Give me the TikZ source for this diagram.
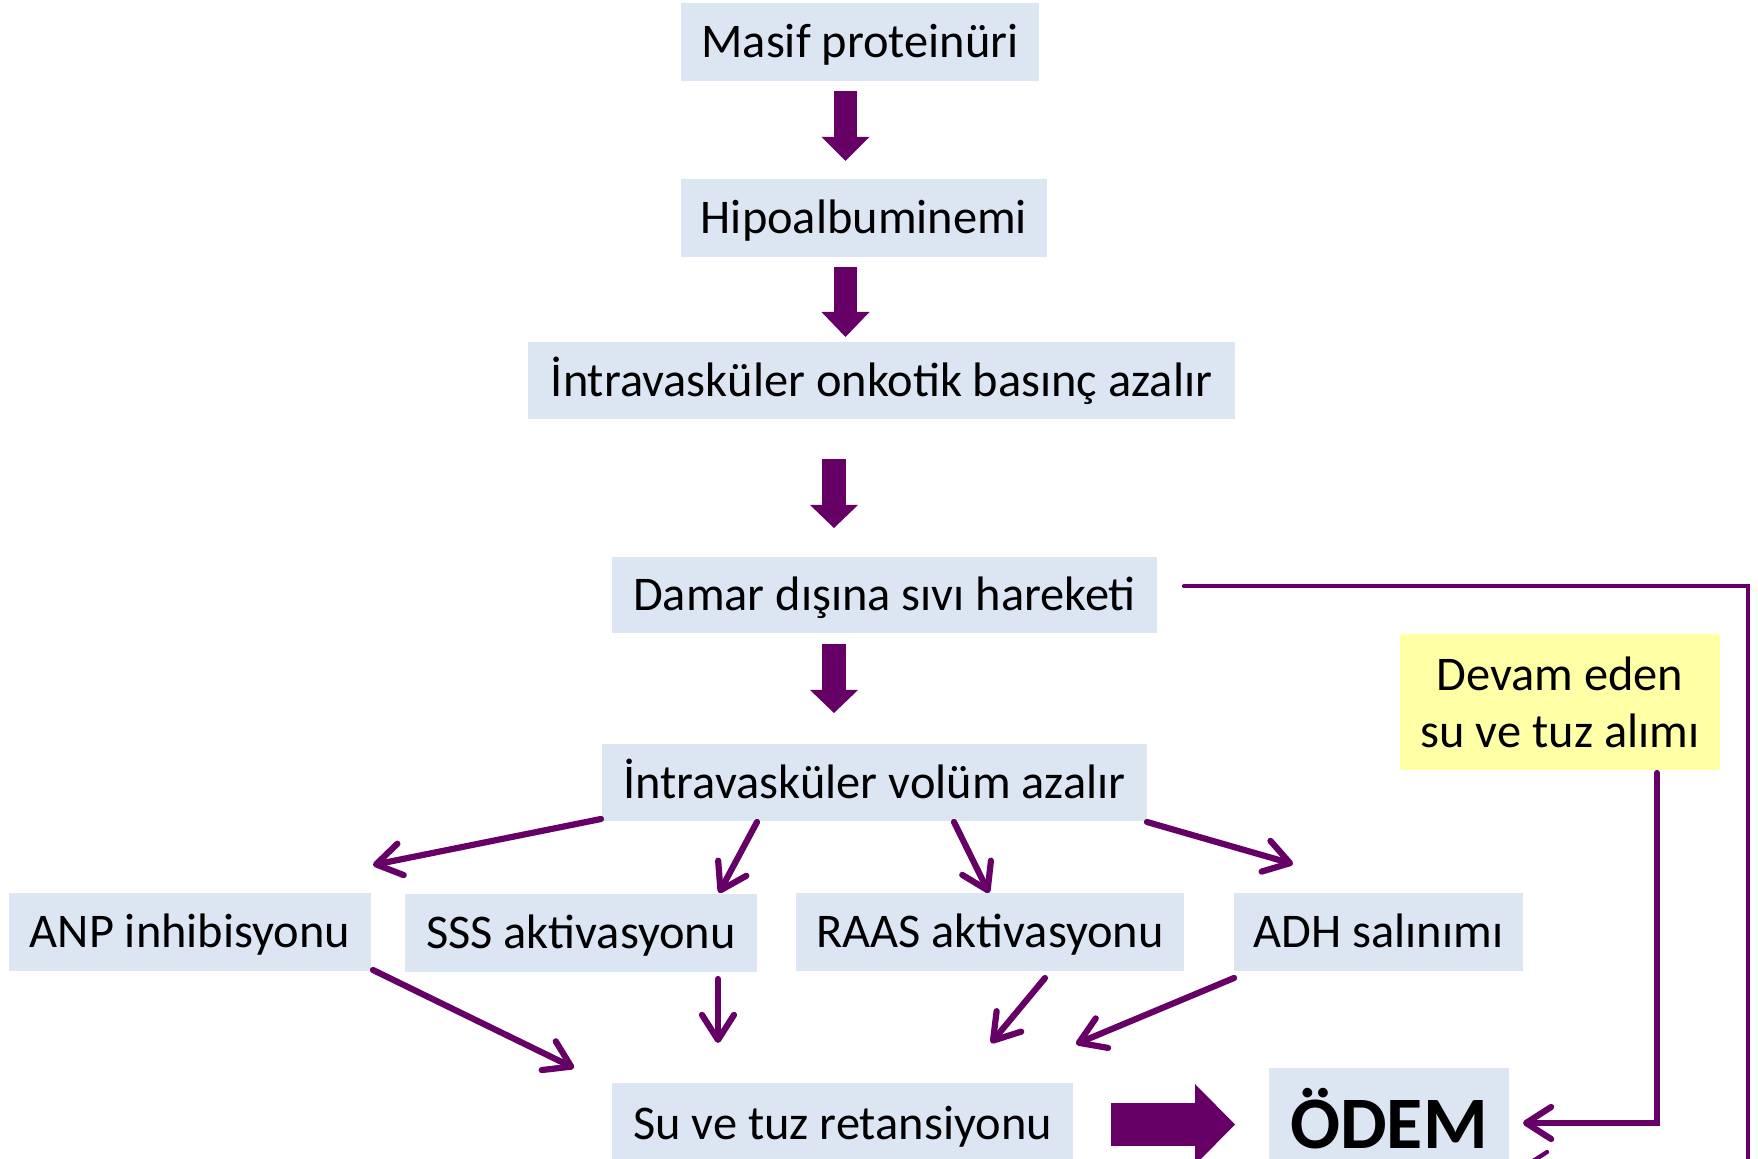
\documentclass[tikz,border=0pt]{standalone}
\usepackage{fontspec}
\setmainfont{Carlito}
\usetikzlibrary{arrows.meta}
\definecolor{boxblue}{HTML}{DCE6F2}
\definecolor{purp}{HTML}{660066}
\definecolor{ylw}{HTML}{FFFFA6}
\begin{document}
\begin{tikzpicture}[x=0.5pt,y=-0.5pt,
  base/.style={inner sep=0pt, font=\fontsize{24.2}{28.5}\selectfont},
  box/.style={base, fill=boxblue, text height=20.8pt, text depth=4.8pt},
  conn/.style={draw=purp, line width=3.1pt, line cap=round,
    -{Straight Barb[length=12.5pt,width=16pt,line cap=round,line join=round]}},
  blk/.style={draw=purp, line width=#1, line cap=butt}
]
\useasboundingbox (0,0) rectangle (1758,1159);
\clip (0,0) rectangle (1758,1159);

% boxes
\node[box, minimum width=179pt, minimum height=39pt] (m) at (860,42) {Masif proteinüri};
\node[box, minimum width=183pt, minimum height=39pt] (h) at (864,218) {Hipoalbuminemi};
\node[box, minimum width=353.5pt, minimum height=38.5pt] (onk) at (881.5,380.5) {İntravasküler onkotik basınç azalır};
\node[box, minimum width=272.5pt, minimum height=38pt] (dam) at (884.5,595) {Damar dışına sıvı hareketi};
\node[box, minimum width=272.5pt, minimum height=38.5pt] (vol) at (874.5,782.5) {İntravasküler volüm azalır};
\node[box, minimum width=181pt, minimum height=39pt] (anp) at (190,932) {ANP inhibisyonu};
\node[box, minimum width=176pt, minimum height=39pt] (sss) at (581,933) {SSS aktivasyonu};
\node[box, minimum width=194pt, minimum height=39pt] (raas) at (990,932) {RAAS aktivasyonu};
\node[box, minimum width=144.5pt, minimum height=39pt] (adh) at (1378.5,932) {ADH salınımı};
\node[box, minimum width=230.5pt, minimum height=40pt] (su) at (842.5,1123) {Su ve tuz retansiyonu};
\node[box, minimum width=120pt, minimum height=56.5pt, font=\fontsize{37}{40}\selectfont\bfseries,
      text height=31.8pt, text depth=7.4pt] (odem) at (1389,1124.5) {ÖDEM};
\node[base, fill=ylw, align=center, minimum width=160pt, minimum height=68pt] (devam) at (1560,702) {Devam eden\\su ve tuz alımı};

% block arrow end points
\coordinate (b1s) at (845.5,91);  \coordinate (b1e) at (845.5,161);
\coordinate (b2s) at (845.5,267); \coordinate (b2e) at (845.5,337);
\coordinate (b3s) at (834,459);   \coordinate (b3e) at (834,528);
\coordinate (b4s) at (834,644);   \coordinate (b4e) at (834,713);
\coordinate (b5s) at (1111,1124.5); \coordinate (b5e) at (1235,1124.5);

\draw[blk=11.5pt, -{Triangle[length=12pt,width=24pt,line width=0pt]}] (b1s) -- (b1e);
\draw[blk=11.5pt, -{Triangle[length=12.5pt,width=24pt,line width=0pt]}] (b2s) -- (b2e);
\draw[blk=12pt, -{Triangle[length=11.5pt,width=24pt,line width=0pt]}] (b3s) -- (b3e);
\draw[blk=12pt, -{Triangle[length=11.5pt,width=24pt,line width=0pt]}] (b4s) -- (b4e);
\draw[blk=21.5pt, -{Triangle[length=20pt,width=40.5pt,line width=0pt]}] (b5s) -- (b5e);

% thin arrow end points
\coordinate (vA) at (601,819);  \coordinate (anpT) at (373,865);
\coordinate (vS) at (757,822);  \coordinate (sssT) at (719,893);
\coordinate (vR) at (954,822);  \coordinate (raasT) at (989,893);
\coordinate (vD) at (1147,822); \coordinate (adhT) at (1293,864);
\coordinate (anpS) at (373,970);  \coordinate (suA) at (574,1068);
\coordinate (sssS) at (718,979);  \coordinate (suS) at (718,1043);
\coordinate (raasS) at (1045,978); \coordinate (suR) at (991,1043);
\coordinate (adhS) at (1234,978); \coordinate (suD) at (1076,1044);

\draw[conn] (vA) -- (anpT);
\draw[conn] (vS) -- (sssT);
\draw[conn] (vR) -- (raasT);
\draw[conn] (vD) -- (adhT);
\draw[conn] (anpS) -- (suA);
\draw[conn] (sssS) -- (suS);
\draw[conn] (raasS) -- (suR);
\draw[conn] (adhS) -- (suD);

% feedback paths
\coordinate (fbS) at (1184,586);
\coordinate (fbC) at (1748,1168);
\coordinate (fbT) at (1520,1168);
\draw[conn, line width=2.1pt, line join=miter] (fbS) -| (fbC) -- (fbT);

\coordinate (dvS) at (1657,773);
\coordinate (dvT) at (1523,1123);
\draw[conn, line join=miter] (dvS) |- (dvT);
\end{tikzpicture}
\end{document}
